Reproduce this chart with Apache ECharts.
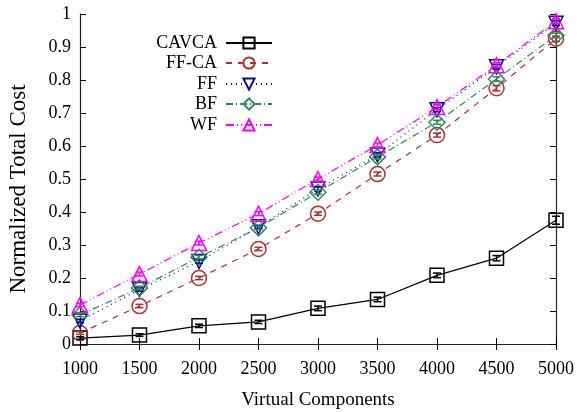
<!DOCTYPE html>
<html><head><meta charset="utf-8">
<script src="https://cdn.jsdelivr.net/npm/echarts@6/dist/echarts.min.js"></script>
<style>html,body{margin:0;padding:0;background:#fff}#c{width:586px;height:412px}</style>
</head><body><div id="c"></div>
<script>
const components = [1000,1500,2000,2500,3000,3500,4000,4500,5000];
const yTicks = [0,0.1,0.2,0.3,0.4,0.5,0.6,0.7,0.8,0.9,1];
const cavca = [0.018,0.027,0.055,0.067,0.108,0.135,0.208,0.260,0.375];
const ffca  = [0.033,0.115,0.200,0.288,0.395,0.515,0.633,0.775,0.925];
const ff    = [0.070,0.165,0.250,0.355,0.470,0.573,0.710,0.840,0.972];
const bf    = [0.088,0.170,0.263,0.352,0.460,0.567,0.672,0.803,0.935];
const wf    = [0.118,0.212,0.306,0.395,0.500,0.603,0.718,0.845,0.978];
const cavcaErr = [0.004,0.004,0.005,0.005,0.007,0.007,0.007,0.008,0.012];
const ffcaErr  = [0.004,0.005,0.005,0.005,0.005,0.006,0.006,0.008,0.008];
const ffErr    = [0.005,0.005,0.005,0.005,0.006,0.006,0.006,0.007,0.007];
const bfErr    = [0.005,0.005,0.005,0.005,0.006,0.006,0.006,0.007,0.007];
const wfErr    = [0.005,0.006,0.006,0.006,0.006,0.006,0.007,0.007,0.007];
const names = ['CAVCA','FF-CA','FF','BF','WF'];

const defs = [
  {name:'CAVCA', data:cavca, err:cavcaErr, color:'#000000', symbol:'rect', rot:0, size:14, dash:'solid'},
  {name:'FF-CA', data:ffca, err:ffcaErr, color:'#b03030', symbol:'circle', rot:0, size:15, dash:[6,6]},
  {name:'FF', data:ff, err:ffErr, color:'#0a0a8c', symbol:'triangle', rot:180, size:14, dash:[1,4]},
  {name:'BF', data:bf, err:bfErr, color:'#2e8b57', symbol:'diamond', rot:0, size:16, dash:[7,3,1,3]},
  {name:'WF', data:wf, err:wfErr, color:'#ff00ff', symbol:'triangle', rot:0, size:15, dash:[8,3,1,3,1,3]}
];
const font = 'Liberation Serif';
const series = [];
defs.forEach(d => {
  series.push({
    name:d.name, type:'line', xAxisIndex:0, yAxisIndex:0,
    data: components.map((x,i)=>[x,d.data[i]]),
    symbol:d.symbol, symbolRotate:d.rot, symbolSize:d.size,
    lineStyle:{color:d.color, width:1.2, type:d.dash},
    itemStyle:{color:'rgba(255,255,255,0)', borderColor:d.color, borderWidth:1.5},
    emphasis:{disabled:true}, animation:false, z:3
  });
  series.push({
    name:d.name+'-err', type:'custom', xAxisIndex:0, yAxisIndex:0,
    data: components.map((x,i)=>[x,d.data[i],d.err[i]]),
    renderItem:(params, api) => {
      const x = api.value(0), y = api.value(1), e = api.value(2);
      const lo = api.coord([x, y-e]), hi = api.coord([x, y+e]);
      const w = 4;
      const st = {stroke:d.color, lineWidth:1.5};
      return {type:'group', children:[
        {type:'line', shape:{x1:lo[0],y1:lo[1],x2:hi[0],y2:hi[1]}, style:st},
        {type:'line', shape:{x1:lo[0]-w,y1:lo[1],x2:lo[0]+w,y2:lo[1]}, style:st},
        {type:'line', shape:{x1:hi[0]-w,y1:hi[1],x2:hi[0]+w,y2:hi[1]}, style:st}
      ]};
    },
    animation:false, silent:true, z:4
  });
});
const legendRows = [43,63,84,104,125];
const legends = names.map((n,i)=>({
  data:[n], right:313, top:legendRows[i]-9, align:'right', orient:'vertical',
  itemWidth:46, itemHeight:14, itemGap:0, padding:0,
  textStyle:{fontFamily:font, fontSize:18, color:'#000', padding:[0,4,0,0]},
  selectedMode:false
}));
const axisCommon = {
  axisLine:{show:true, lineStyle:{color:'#222', width:1.2}},
  axisTick:{show:true, inside:true, length:6, lineStyle:{color:'#000'}},
  splitLine:{show:false}
};
const chart = echarts.init(document.getElementById('c'), null, {renderer:'canvas'});
chart.setOption({
  backgroundColor:'#fff',
  animation:false,
  grid:{left:80, right:30, top:14, bottom:68, containLabel:false, outerBoundsMode:'none'},
  legend:legends,
  xAxis:[
    Object.assign({type:'value', min:1000, max:5000, interval:500, position:'bottom',
      name:'Virtual Components', nameLocation:'middle', nameGap:47,
      nameTextStyle:{fontFamily:font, fontSize:19, color:'#000'},
      axisLabel:{fontFamily:font, fontSize:18, color:'#000', margin:16,
        formatter:v=>String(v)}}, axisCommon),
    Object.assign({type:'value', min:1000, max:5000, interval:500, position:'top',
      axisLabel:{show:false}}, axisCommon)
  ],
  yAxis:[
    Object.assign({type:'value', min:0, max:1, interval:0.1, position:'left',
      name:'Normalized Total Cost', nameLocation:'middle', nameGap:50, nameRotate:90,
      nameTextStyle:{fontFamily:font, fontSize:23, color:'#000', padding:[0,20,0,0]},
      axisLabel:{fontFamily:font, fontSize:18, color:'#000', margin:9,
        formatter:v=>{const t=yTicks.find(k=>Math.abs(k-v)<1e-9); return t===undefined?'':String(t);}}}, axisCommon),
    Object.assign({type:'value', min:0, max:1, interval:0.1, position:'right',
      axisLabel:{show:false}}, axisCommon)
  ],
  series:series
});
</script></body></html>
